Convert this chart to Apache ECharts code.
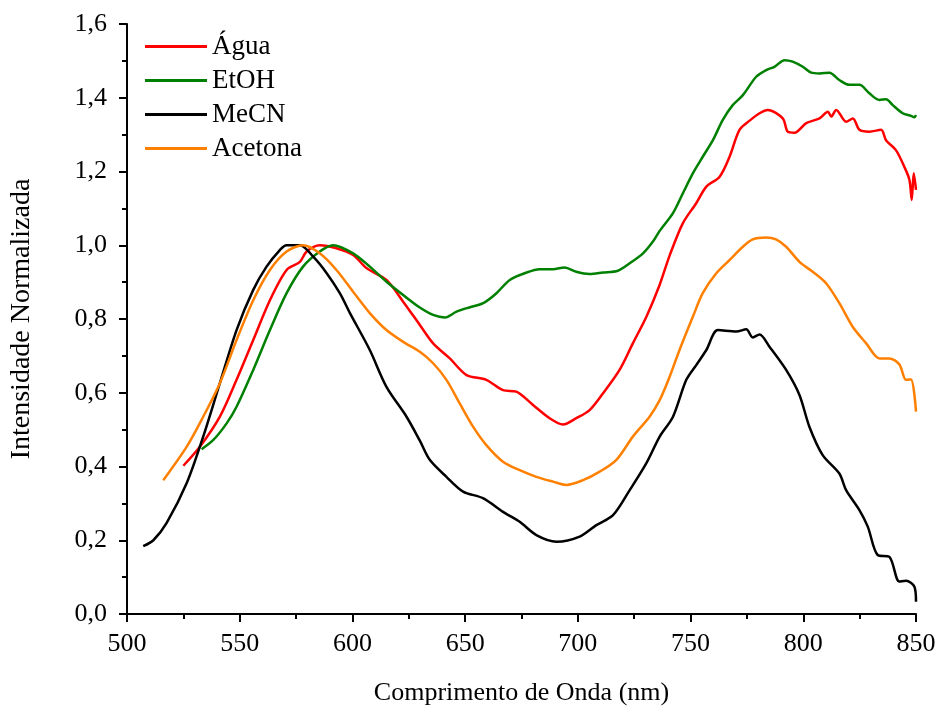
<!DOCTYPE html>
<html>
<head>
<meta charset="utf-8">
<script src="https://cdn.jsdelivr.net/npm/echarts@6/dist/echarts.min.js"></script>
<style>
  html, body { margin: 0; padding: 0; background: #fff; }
  #chart { width: 937px; height: 706px; }
</style>
</head>
<body>
<div id="chart"></div>
<script>
// Normalised emission spectra in four solvents: [wavelength (nm), intensity]
const agua = [
  [525,0.402],[532.4,0.454],[541.2,0.535],[548.6,0.635],[556,0.743],[563.4,0.851],
  [570.8,0.933],[576.7,0.955],[579.7,0.983],[585.5,1.0],[592.9,0.992],[600.3,0.974],
  [606.2,0.938],[615.1,0.906],[622.5,0.847],[629.9,0.784],[635.8,0.734],[643.2,0.693],
  [650.6,0.648],[659.4,0.635],[666.8,0.607],[672.7,0.603],[680.1,0.567],[687.5,0.531],
  [693.4,0.514],[699.3,0.531],[705.2,0.553],[711.1,0.598],[718.5,0.662],[724.4,0.734],
  [730.4,0.806],[736.3,0.893],[740.7,0.972],[746.6,1.06],[752.5,1.114],[757,1.159],
  [762.9,1.186],[767.3,1.24],[771.7,1.313],[776.2,1.338],[780.6,1.358],[784.3,1.367],
  [790.9,1.344],[793.1,1.308],[796.1,1.305],[801.3,1.331],[807.2,1.344],[810.9,1.362],
  [812.4,1.349],[814.6,1.367],[819,1.335],[822,1.344],[824.9,1.313],[829.3,1.308],
  [834.5,1.313],[836.7,1.285],[841.1,1.258],[844.8,1.213],[847.1,1.177],[848.1,1.123],
  [849,1.195],[850,1.15]
];
const etoh = [
  [533.1,0.447],[538.3,0.472],[544.2,0.517],[548.6,0.562],[556,0.662],[563.4,0.77],
  [570.8,0.87],[578.1,0.942],[585.5,0.983],[591.4,1.0],[600.3,0.978],[607.7,0.942],
  [615.1,0.901],[622.5,0.865],[629.9,0.831],[635.8,0.811],[641,0.804],[646.2,0.82],
  [652.1,0.832],[658,0.843],[663.9,0.87],[669.8,0.906],[677.2,0.926],[683.1,0.935],
  [689,0.935],[694.1,0.94],[699.3,0.928],[705.2,0.922],[711.1,0.926],[717.8,0.931],
  [723,0.951],[728.9,0.978],[733.3,1.01],[736.3,1.039],[742.2,1.087],[746.6,1.141],
  [751,1.195],[755.4,1.24],[759.9,1.285],[764.3,1.34],[768.7,1.38],[773.2,1.407],
  [779.1,1.457],[783.5,1.475],[787.2,1.484],[791.7,1.502],[795.3,1.498],[799.8,1.484],
  [803.5,1.468],[807.2,1.466],[811.6,1.468],[816,1.448],[820.5,1.435],[824.9,1.435],
  [829.3,1.412],[833.8,1.394],[836.7,1.396],[839.7,1.38],[844.1,1.358],[847.8,1.351],
  [849.3,1.347],[850,1.353]
];
const mecn = [
  [507.2,0.184],[511.7,0.2],[517.6,0.247],[526.5,0.355],[533.8,0.481],[541.2,0.626],
  [548.6,0.77],[556,0.879],[561.9,0.942],[567.8,0.987],[570.8,1.0],[576.7,1.0],
  [582.6,0.969],[588.5,0.925],[594.4,0.87],[598.9,0.816],[607.7,0.716],[615.1,0.616],
  [624,0.535],[629.9,0.47],[634.3,0.418],[641.7,0.372],[649.1,0.332],[657.9,0.314],
  [666.8,0.277],[674.2,0.25],[681.6,0.214],[690.5,0.196],[700.8,0.21],[708.2,0.241],
  [715.6,0.268],[723,0.336],[730.4,0.409],[736.3,0.481],[742.2,0.535],[748.1,0.635],
  [752.5,0.675],[757,0.716],[762.1,0.77],[770.3,0.766],[774.7,0.772],[777.6,0.75],
  [780.6,0.758],[785,0.725],[792.4,0.662],[798.3,0.594],[802.7,0.508],[808.6,0.431],
  [816,0.381],[819,0.336],[824.9,0.282],[828.6,0.237],[833,0.16],[838.2,0.155],
  [842.6,0.088],[845.6,0.09],[849.3,0.074],[850,0.033]
];
const acetona = [
  [516.1,0.363],[526.5,0.454],[533.8,0.535],[541.2,0.626],[548.6,0.743],[556,0.851],
  [563.4,0.933],[570.8,0.983],[578.1,1.0],[585.5,0.978],[592.9,0.933],[600.3,0.874],
  [607.7,0.816],[615.1,0.77],[622.5,0.738],[629.9,0.711],[635.8,0.68],[641.7,0.635],
  [647.6,0.571],[653.5,0.508],[659.4,0.458],[666.8,0.413],[674.2,0.39],[681.6,0.372],
  [689,0.359],[694.9,0.35],[702.3,0.363],[709.7,0.386],[717.1,0.418],[724.4,0.481],
  [731.8,0.535],[736.3,0.58],[740.5,0.64],[745.1,0.716],[751,0.806],[755.4,0.87],
  [761.4,0.924],[767.3,0.96],[773.2,0.996],[777.6,1.016],[783.5,1.021],[787.9,1.016],
  [792.4,0.996],[798.3,0.955],[804.2,0.928],[810.1,0.897],[816,0.843],[821.9,0.779],
  [827.9,0.734],[833.8,0.693],[838.2,0.693],[842.6,0.677],[845.6,0.635],[847.8,0.636],
  [850,0.549]
];

const seriesNames = ['Água', 'EtOH', 'MeCN', 'Acetona'];
const seriesColors = ['#ff0000', '#008000', '#000000', '#ff8000'];
const seriesData = [agua, etoh, mecn, acetona];

const xTitle = 'Comprimento de Onda (nm)';
const yTitle = 'Intensidade Normalizada';

const font = '"Liberation Serif", "Times New Roman", serif';

const chart = echarts.init(document.getElementById('chart'), null, { renderer: 'canvas' });

const axisCommon = {
  axisLine: { show: true, onZero: false, lineStyle: { color: '#000', width: 2 } },
  axisTick: { show: true, inside: false, length: 8, lineStyle: { color: '#000', width: 2 } },
  minorTick: { show: true, splitNumber: 2, length: 5, lineStyle: { color: '#000', width: 2 } },
  splitLine: { show: false }
};

chart.setOption({
  backgroundColor: '#fff',
  animation: false,
  grid: { left: 127, right: 21, top: 24, bottom: 92, containLabel: false, outerBoundsMode: 'none' },
  legend: {
    orient: 'vertical',
    left: 145,
    top: 33,
    padding: 0,
    icon: 'rect',
    itemWidth: 62,
    itemHeight: 3,
    itemGap: 7,
    textStyle: { fontFamily: font, fontSize: 27, color: '#000', lineHeight: 27 },
    data: seriesNames
  },
  xAxis: Object.assign({}, axisCommon, {
    type: 'value',
    min: 500, max: 850, interval: 50,
    name: xTitle,
    nameLocation: 'middle',
    nameGap: 66,
    nameTextStyle: { fontFamily: font, fontSize: 26, color: '#000' },
    axisLabel: { fontFamily: font, fontSize: 26, color: '#000', margin: 17 }
  }),
  yAxis: Object.assign({}, axisCommon, {
    type: 'value',
    min: 0, max: 1.6, interval: 0.2,
    name: yTitle,
    nameLocation: 'middle',
    nameGap: 91,
    nameTextStyle: { fontFamily: font, fontSize: 28, color: '#000' },
    axisLabel: {
      fontFamily: font, fontSize: 26, color: '#000', margin: 20,
      formatter: v => v.toFixed(1).replace('.', ',')
    }
  }),
  series: seriesNames.map((name, i) => ({
    name: name,
    type: 'line',
    data: seriesData[i],
    showSymbol: false,
    symbol: 'none',
    smooth: 0.3,
    lineStyle: { color: seriesColors[i], width: 2.5 },
    itemStyle: { color: seriesColors[i] }
  }))
});
</script>
</body>
</html>
